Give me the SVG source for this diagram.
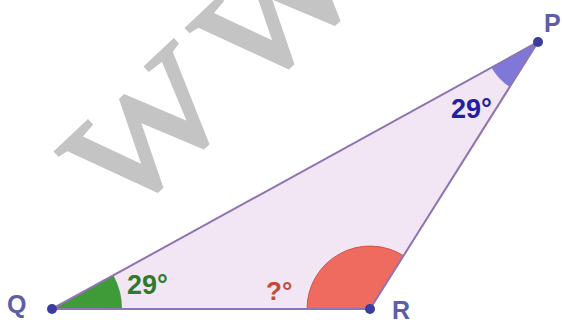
<svg xmlns="http://www.w3.org/2000/svg" width="562" height="320" viewBox="0 0 562 320">
<style>
.lbl{font-family:"Liberation Sans",Arial,sans-serif;font-weight:bold}
.vtx{fill:#5d5ea8;font-size:25px}
.dot{fill:#3b3ba0}
.edge{fill:none;stroke:#8e74b0;stroke-width:2}
</style>
<rect width="562" height="320" fill="#ffffff"/>
<text transform="translate(122 221) rotate(-43.3) scale(1.17 1)" x="0" y="0" font-family="Liberation Serif,serif" font-size="146" letter-spacing="16" fill="#c4c4c4" stroke="#c4c4c4" stroke-width="4">WWW</text>
<g id="triangle">
<polygon points="52,309 370,309 538,42" fill="#f3e6f4"/>
</g>
<g id="angleQ">
<path d="M52,309 L122,309 A70,70 0 0,0 113.4,275.3 Z" fill="#3f9b37"/>
<text class="lbl" x="127" y="294" font-size="27" fill="#2f7a2f">29°</text>
</g>
<g id="angleR">
<path d="M370,309 L307,309 A63,63 0 0,1 403.5,255.7 Z" fill="#ef6a5f" stroke="#d0554b" stroke-width="1"/>
<text class="lbl" x="266" y="300" font-size="26" fill="#c24a3c">?°</text>
</g>
<g id="angleP">
<path d="M538,42 L491.5,67.5 A53,53 0 0,0 509.8,86.9 Z" fill="#7f78d8"/>
<text class="lbl" x="451" y="118" font-size="27" fill="#1e22a0">29°</text>
</g>
<g id="connectors">
<line class="edge" x1="52" y1="309" x2="370" y2="309"/>
<line class="edge" x1="370" y1="309" x2="538" y2="42"/>
<line class="edge" x1="538" y1="42" x2="52" y2="309"/>
</g>
<g id="Q"><circle class="dot" cx="52" cy="309" r="5"/><text class="lbl vtx" x="7" y="313">Q</text></g>
<g id="R"><circle class="dot" cx="370" cy="309" r="5"/><text class="lbl vtx" x="392" y="319">R</text></g>
<g id="P"><circle class="dot" cx="538" cy="42" r="5"/><text class="lbl vtx" x="544" y="32">P</text></g>
</svg>
